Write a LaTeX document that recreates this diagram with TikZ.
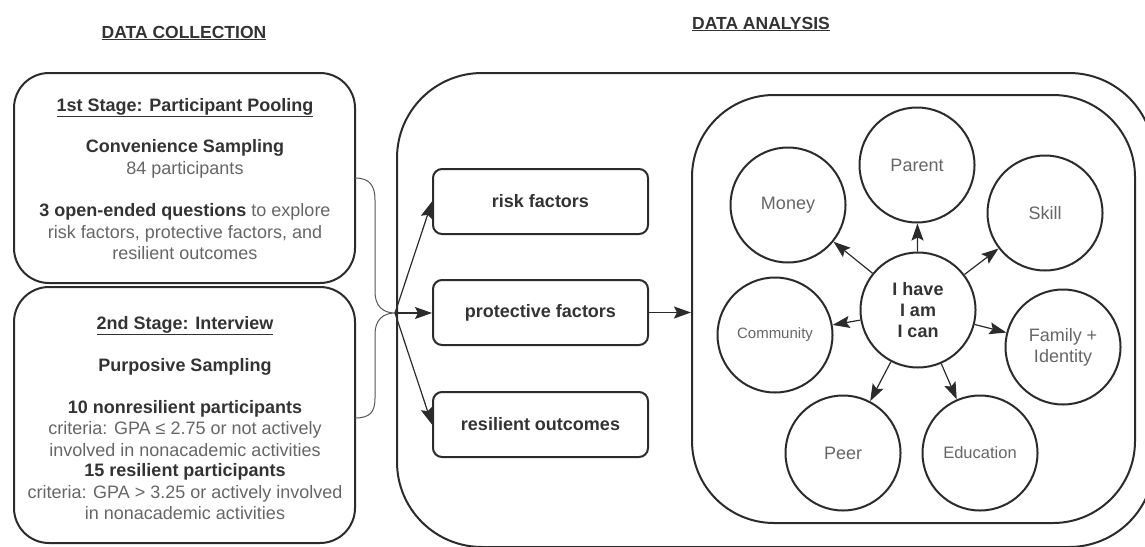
\documentclass[tikz,border=0pt]{standalone}
\usepackage{fontspec}
\setmainfont{Liberation Sans}
\usetikzlibrary{arrows.meta,calc}
\definecolor{ink}{HTML}{2B2B2B}
\definecolor{txtdark}{HTML}{333333}
\definecolor{txtgray}{HTML}{666666}
\newcommand{\fs}{\fontsize{18}{21}\selectfont}
\begin{document}
\begin{tikzpicture}[x=1pt,y=-1pt,
  bigbox/.style={draw=ink,line width=2pt,rounded corners=#1,inner sep=0pt},
  fbox/.style={draw=ink,line width=2pt,rounded corners=9pt,minimum width=215pt,minimum height=65pt,inner sep=0pt,font=\fs\bfseries,text=txtdark},
  bubble/.style={draw=ink,line width=2pt,circle,minimum size=115pt,inner sep=0pt,font=\fs,text=txtgray,align=center},
  ln/.style={anchor=base,inner sep=0pt,font=\fs,text=txtgray},
  hd/.style={anchor=base,inner sep=0pt,font=\fs\bfseries,text=txtdark},
  arr/.style={draw=ink,line width=1.2pt,-{Stealth[length=17pt,width=12pt,inset=3pt]}},
  brace/.style={draw=ink!80,line width=1pt}]
\useasboundingbox (0,0) rectangle (1145,546);

% titles
\node[hd,font=\fontsize{17.5}{21}\selectfont\bfseries] (tcol) at (184,38) {\underline{DATA COLLECTION}};
\node[hd,font=\fontsize{17.5}{21}\selectfont\bfseries] (tana) at (761,29) {\underline{DATA ANALYSIS}};

% stage boxes
\node[bigbox=35pt,minimum width=341pt,minimum height=210pt] (b1) at (184.5,178) {};
\node[bigbox=35pt,minimum width=341pt,minimum height=256pt] (b2) at (184.5,415) {};

\node[hd] (s1) at (185,111) {\underline{1st Stage: Participant Pooling}};
\node[hd] (s1a) at (185,152) {Convenience Sampling};
\node[ln] (s1b) at (185,174) {84 participants};
\node[ln] (s1c) at (185,216) {\textcolor{txtdark}{\textbf{3 open-ended questions}} to explore};
\node[ln] (s1d) at (185,238) {risk factors, protective factors, and};
\node[ln] (s1e) at (185,259) {resilient outcomes};

\node[hd] (s2) at (185,329) {\underline{2nd Stage: Interview}};
\node[hd] (s2a) at (185,371) {Purposive Sampling};
\node[hd] (s2b) at (185,413) {10 nonresilient participants};
\node[ln] (s2c) at (185,434) {criteria: GPA ≤ 2.75 or not actively};
\node[ln] (s2d) at (185,456) {involved in nonacademic activities};
\node[hd] (s2e) at (185,476) {15 resilient participants};
\node[ln] (s2f) at (185,498) {criteria: GPA > 3.25 or actively involved};
\node[ln] (s2g) at (185,519) {in nonacademic activities};

% analysis boxes
\node[bigbox=85pt,minimum width=757pt,minimum height=474pt] (outer) at (775.5,310) {};
\node[bigbox=82pt,minimum width=443pt,minimum height=428pt] (inner) at (913.5,309) {};

\node[fbox] (risk) at (540.5,201.5) {risk factors};
\node[fbox] (prot) at (540.5,312.5) {protective factors};
\node[fbox] (resi) at (540.5,424.5) {resilient outcomes};

% brace
\coordinate (btop) at (355,178);
\coordinate (tip) at (395,313);
\coordinate (bbot) at (355,418);
\draw[brace] (btop) .. controls (370,178) and (375,186) .. (375,200) -- (375,292)
  .. controls (375,306) and (383,313) .. (tip)
  .. controls (383,313) and (375,320) .. (375,334) -- (375,398)
  .. controls (375,412) and (370,418) .. (bbot);

\draw[arr] (tip) -- (risk.west);
\draw[arr] (tip) -- (prot.west |- tip);
\draw[arr] (tip) -- (resi.west);
\draw[arr] (prot.east) -- (prot.east -| inner.west);

% bubbles
\node[bubble] (parent) at (917,165) {Parent};
\node[bubble] (money) at (788,205) {Money};
\node[bubble] (skill) at (1045,213) {Skill};
\node[bubble,font=\fontsize{15}{18}\selectfont] (comm) at (775,335) {Community};
\node[bubble] (fam) at (1063,347) {Family +\\Identity};
\node[bubble] (peer) at (843,453) {Peer};
\node[bubble,font=\fontsize{16.5}{20}\selectfont] (edu) at (980,453) {Education};
\node[bubble,font=\fs\bfseries,text=txtdark] (core) at (918,310) {I have\\I am\\I can};

\foreach \t in {parent,money,skill,comm,fam,peer,edu}
  \draw[arr] (core) -- (\t);
\end{tikzpicture}
\end{document}
